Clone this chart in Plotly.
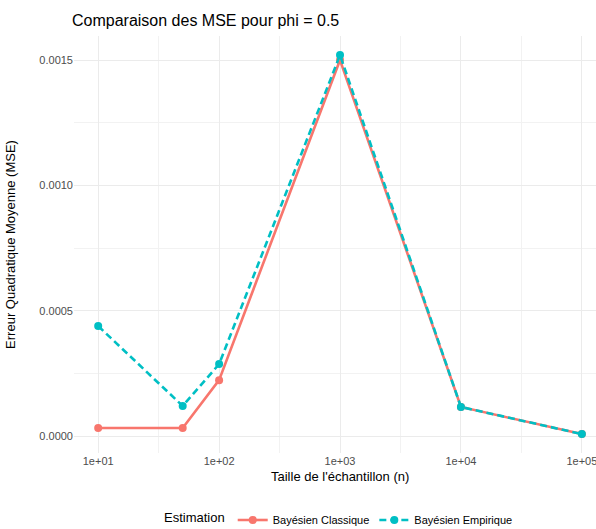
import plotly.graph_objects as go

# Sample sizes and MSE per estimation method
sample_sizes = [10, 50, 100, 1000, 10000, 100000]
mse_classique = [0.000032, 0.000032, 0.000223, 0.0015, 0.000116, 0.000008]
mse_empirique = [0.000439, 0.00012, 0.000287, 0.00152, 0.000116, 0.000008]

x_tickvals = [10, 100, 1000, 10000, 100000]
x_ticktext = ["1e+01", "1e+02", "1e+03", "1e+04", "1e+05"]
y_tickvals = [0.0, 0.0005, 0.0010, 0.0015]
y_ticktext = ["0.0000", "0.0005", "0.0010", "0.0015"]

RED = "#F8766D"
TEAL = "#00BFC4"
GRID = "#EBEBEB"
TICK = "#4D4D4D"
FONT = "Liberation Sans, Arial, sans-serif"

fig = go.Figure()
fig.add_trace(go.Scatter(
    x=sample_sizes, y=mse_classique, name="Bayésien Classique",
    mode="lines+markers",
    line=dict(color=RED, width=2.6),
    marker=dict(color=RED, size=8),
))
fig.add_trace(go.Scatter(
    x=sample_sizes, y=mse_empirique, name="Bayésien Empirique",
    mode="lines+markers",
    line=dict(color=TEAL, width=2.6, dash="7px,4px"),
    marker=dict(color=TEAL, size=8),
))

fig.update_layout(
    width=596, height=529,
    margin=dict(l=74, r=0, t=36, b=76, autoexpand=False),
    paper_bgcolor="white", plot_bgcolor="white",
    font=dict(family=FONT, color="black"),
    title=dict(text="Comparaison des MSE pour phi = 0.5",
               x=72 / 596, xanchor="left", y=1 - 20 / 529, yanchor="middle",
               font=dict(size=16, color="black")),
    showlegend=True,
    legend=dict(orientation="h", x=0.5096, xanchor="center",
                yref="container", y=1 - 520 / 529, yanchor="middle",
                title=dict(text="Estimation", font=dict(size=13, color="black")),
                font=dict(size=11, color="black"),
                itemwidth=30, tracegroupgap=0),
)

fig.update_xaxes(
    type="log", range=[0.8, 5.117],
    tickvals=x_tickvals, ticktext=x_ticktext,
    tickfont=dict(size=11, color=TICK),
    ticklabeloverflow="allow", automargin=False,
    showgrid=True, gridcolor=GRID, gridwidth=1.1,
    minor=dict(tickvals=[10 ** 1.5, 10 ** 2.5, 10 ** 3.5, 10 ** 4.5],
               showgrid=True, gridcolor="#F2F2F2", gridwidth=0.8),
    zeroline=False, showline=False, ticks="", ticklen=0,
)
fig.update_yaxes(
    range=[-0.0000676, 0.001596],
    tickvals=y_tickvals, ticktext=y_ticktext,
    tickfont=dict(size=11, color=TICK),
    automargin=False,
    showgrid=True, gridcolor=GRID, gridwidth=1.1,
    minor=dict(tickvals=[0.00025, 0.00075, 0.00125],
               showgrid=True, gridcolor="#F2F2F2", gridwidth=0.8),
    zeroline=False, showline=False, ticks="",
    title=dict(text="Erreur Quadratique Moyenne (MSE)",
               font=dict(size=13, color="black"), standoff=20),
)

fig.add_annotation(
    text="Taille de l'échantillon (n)", xref="paper", yref="paper",
    x=0.5096, y=-0.057, xanchor="center", yanchor="middle",
    showarrow=False, font=dict(size=13, color="black"),
)

fig.write_html("out.html")
